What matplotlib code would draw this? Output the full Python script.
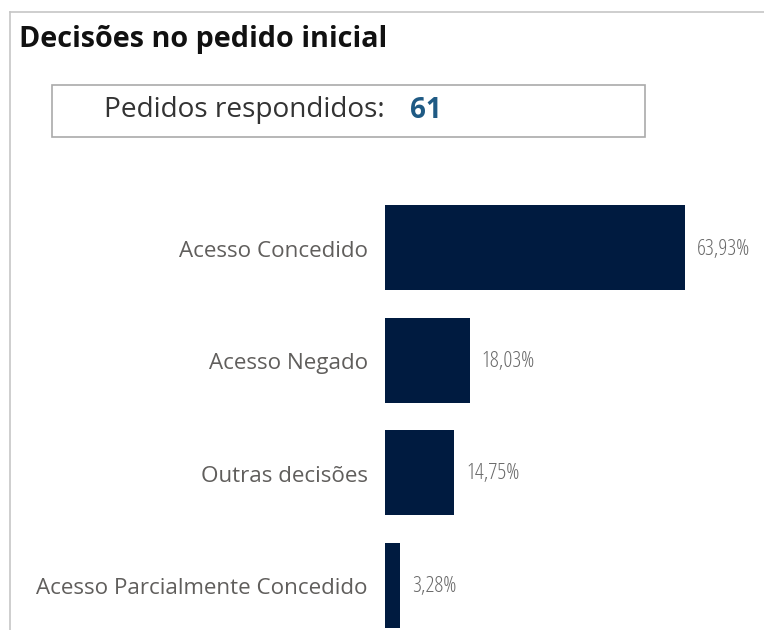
import matplotlib.pyplot as plt
from matplotlib.lines import Line2D
from matplotlib.patches import Rectangle

categories = ["Acesso Concedido", "Acesso Negado", "Outras decisões",
              "Acesso Parcialmente Concedido"]
percentages = [63.93, 18.03, 14.75, 3.28]
total_answered = 61

W, H = 764, 630
fig = plt.figure(figsize=(W / 100, H / 100), dpi=100)
plt.rcParams["font.family"] = ["Open Sans", "DejaVu Sans"]

def fx(px):
    return px / W

def fy(py):
    return 1 - py / H

# outer card border (left and top only visible)
frame_col = "#c6c6c6"
fig.add_artist(Line2D([fx(10), fx(10)], [fy(12), 0], color=frame_col, lw=1.2))
fig.add_artist(Line2D([fx(10), 1], [fy(12), fy(12)], color=frame_col, lw=1.2))

fig.text(fx(19), fy(40), "Decisões no pedido inicial", fontsize=20.7,
         fontweight="bold", color="#111111", va="center", ha="left")

# KPI box
fig.add_artist(Rectangle((fx(52), fy(137)), fx(645) - fx(52), fy(85) - fy(137),
                         transform=fig.transFigure, fill=False,
                         edgecolor="#aaaaaa", lw=1.2))
fig.text(fx(104), fy(110), "Pedidos respondidos:", fontsize=20.2,
         color="#333333", va="center", ha="left")
fig.text(fx(410), fy(110), str(total_answered), fontsize=20, fontweight="bold",
         color="#1f5a84", va="center", ha="left")

# bar chart axes
px_per_unit = 300 / 63.93
ax_left, ax_top = 385, 190
ax = fig.add_axes([fx(ax_left), 0, fx(W) - fx(ax_left), fy(ax_top)])
pitch = 112.5
c0 = 247.5
ax.set_ylim((H - c0) / pitch, -(c0 - ax_top) / pitch)
ax.set_xlim(0, (W - ax_left) / px_per_unit)

ypos = list(range(len(categories)))
ax.barh(ypos, percentages, height=85 / pitch, color="#001b40")
for y, v, name in zip(ypos, percentages, categories):
    ax.text(v + 12 / px_per_unit, y + 1.5 / pitch, f"{v:.2f}%".replace(".", ","),
            fontsize=16, color="#6a6a6a", va="center", ha="left",
            fontstretch="condensed", clip_on=False)
    ax.text(-17 / px_per_unit, y + 4 / pitch, name, fontsize=16.1, color="#605e5c",
            va="center", ha="right", clip_on=False)

ax.axis("off")
fig.savefig("out.png", dpi=100)
